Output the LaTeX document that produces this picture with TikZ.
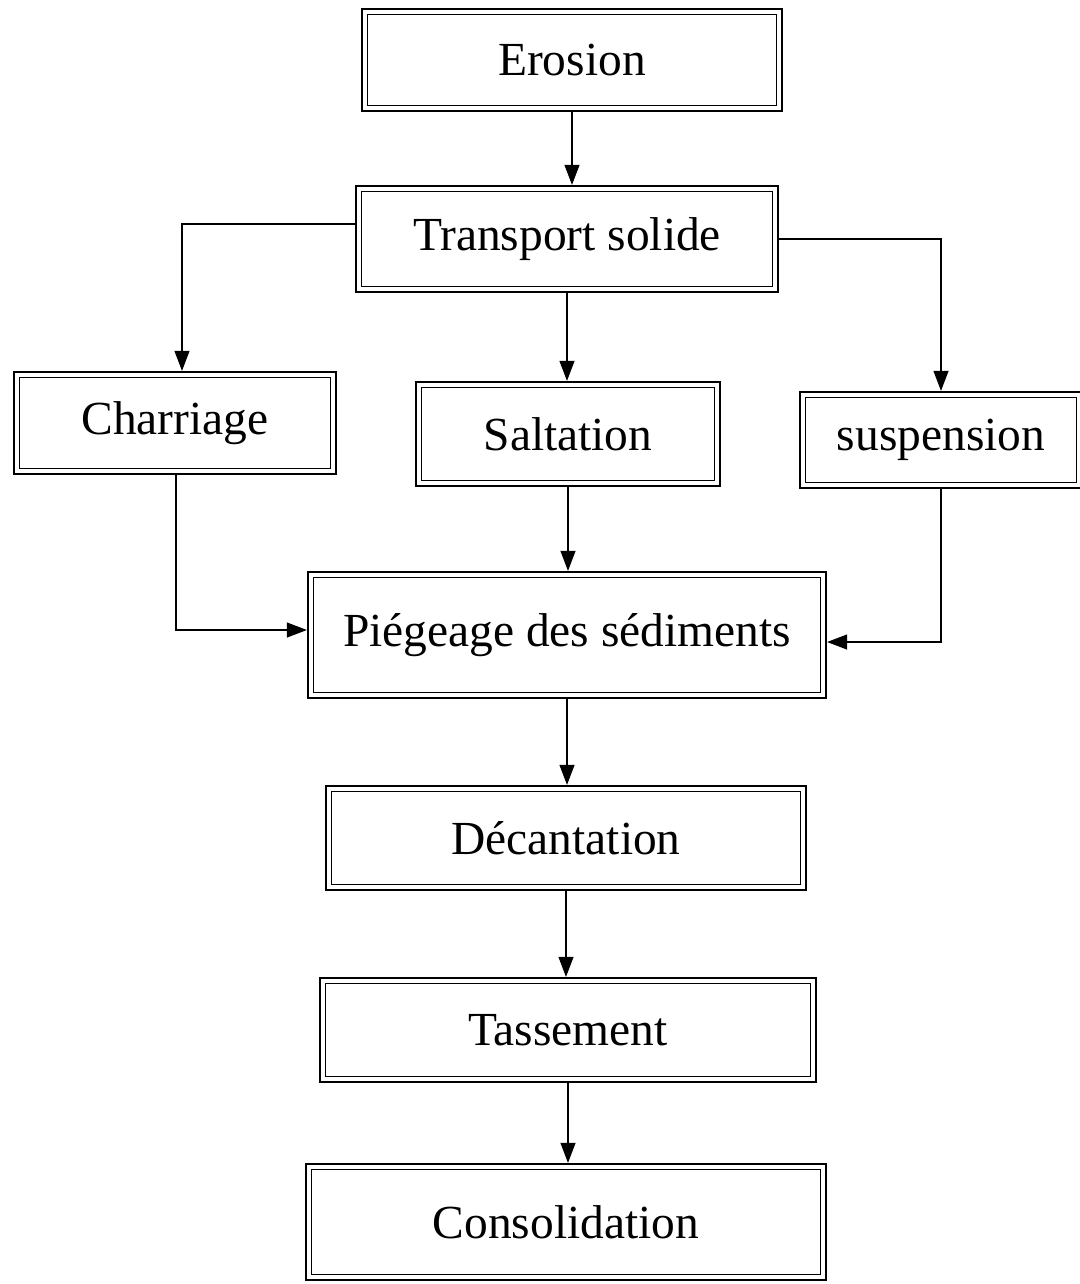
\documentclass[tikz,border=0pt]{standalone}
\usepackage{fontspec}
\setmainfont{Liberation Serif}
\usetikzlibrary{positioning,calc,arrows.meta}

\tikzset{
	stage/.style={draw=black, line width=1.3pt, fill=white, inner sep=0pt,
		font=\fontsize{27}{32}\selectfont},
	flow/.style={line width=0.6pt}
}

\begin{document}
\begin{tikzpicture}
		\useasboundingbox (0,0) rectangle (21.58,-25.68);

		\node[stage, minimum width=8.4cm,  minimum height=2.04cm] (erosion) at (11.44,-1.2)   {Erosion};
		\node[stage, minimum width=8.44cm, minimum height=2.12cm] (transport) at (11.34,-4.78) {Transport solide};
		\node[stage, minimum width=6.44cm, minimum height=2.04cm] (charriage) at (3.5,-8.46)  {Charriage};
		\node[stage, minimum width=6.08cm, minimum height=2.08cm] (saltation) at (11.36,-8.68) {Saltation};
		\node[stage, minimum width=5.64cm, minimum height=1.92cm] (suspension) at (18.82,-8.8) {suspension};
		\node[stage, minimum width=10.36cm, minimum height=2.52cm] (piegeage) at (11.34,-12.7) {Piégeage des sédiments};
		\node[stage, minimum width=9.6cm,  minimum height=2.08cm] (decantation) at (11.32,-16.76) {Décantation};
		\node[stage, minimum width=9.92cm, minimum height=2.08cm] (tassement) at (11.36,-20.6) {Tassement};
		\node[stage, minimum width=10.4cm, minimum height=2.32cm] (consolidation) at (11.32,-24.44) {Consolidation};

		% inner frame of each box
		\foreach \n in {erosion,transport,charriage,saltation,suspension,piegeage,decantation,tassement,consolidation}
			\draw[line width=0.6pt] ($(\n.north west)+(0.13,-0.13)$) rectangle ($(\n.south east)+(-0.13,0.13)$);

		\begin{scope}[>={Stealth[black, length=0.4cm, width=0.3cm, inset=0pt]}, flow]

			\draw [->] (erosion.south) -- (erosion.south |- transport.north);
			\draw [->] ([yshift=0.3cm]transport.west) -| ([xshift=0.14cm]charriage.north);
			\draw [->] (transport.south) -- (transport.south |- saltation.north);
			\draw [->] (transport.east) -| (suspension.north);
			\draw [->] ([xshift=0.02cm]charriage.south) |- ([yshift=0.1cm]piegeage.west);
			\draw [->] (saltation.south) -- (saltation.south |- piegeage.north);
			\draw [->] (suspension.south) |- ([yshift=-0.14cm]piegeage.east);
			\draw [->] (piegeage.south) -- (piegeage.south |- decantation.north);
			\draw [->] (decantation.south) -- (decantation.south |- tassement.north);
			\draw [->] (tassement.south) -- (tassement.south |- consolidation.north);

		\end{scope}

	\end{tikzpicture}
\end{document}
